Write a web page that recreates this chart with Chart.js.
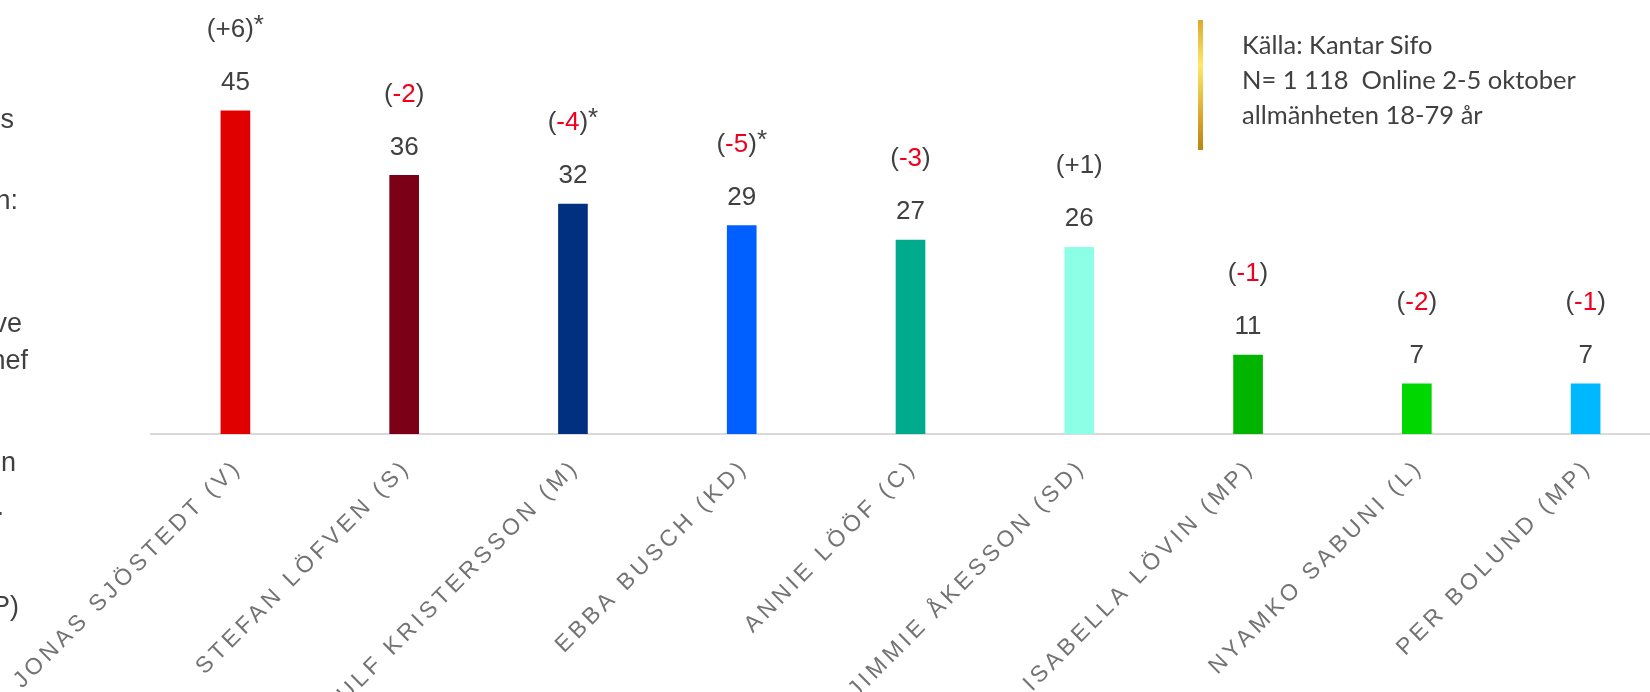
<!DOCTYPE html>
<html>
<head>
  <title>Partiledare förtroende</title>
  <script src="https://cdn.jsdelivr.net/npm/chart.js"></script>
  <style>
    body {
      margin: 0;
      background: #fff;
      font-family: "Liberation Sans", Arial, sans-serif;
    }
    #wrap {
      position: relative;
      width: 1650px;
      height: 692px;
      overflow: hidden;
    }
    canvas { position: absolute; left: 0; top: 0; }
    .frag {
      position: absolute;
      right: 0;
      color: #404040;
      font-size: 27px;
      line-height: 1;
      white-space: nowrap;
    }
    #source {
      position: absolute;
      left: 1198px;
      top: 20px;
      height: 130px;
      border-left: 5px solid transparent;
      border-image: linear-gradient(#d9a82c, #ffe868 35%, #d8a52a 75%, #b5850f) 1;
      padding-left: 39px;
      font-family: Lato, "Open Sans", sans-serif;
      font-size: 25.5px;
      color: #404040;
      line-height: 35px;
    }
    #source div { position: relative; top: 7px; }
  </style>
</head>
<body>
<div id="wrap">
  <canvas id="chart" width="1672" height="692"></canvas>

  <!-- text box on the left, cut off by the picture edge -->
  <div class="frag" style="right:1636px;top:106px;">s</div>
  <div class="frag" style="right:1632px;top:187px;">n:</div>
  <div class="frag" style="right:1628px;top:310px;">ve</div>
  <div class="frag" style="right:1622px;top:347px;">hef</div>
  <div class="frag" style="right:1634px;top:449px;">n</div>
  <div class="frag" style="right:1646px;top:493px;">.</div>
  <div class="frag" style="right:1631px;top:593px;">P)</div>

  <div id="source"><div>
    Källa: Kantar Sifo<br>
    N= 1 118 &nbsp;Online 2-5 oktober<br>
    allmänheten 18-79 år
  </div></div>
</div>

<script>
  const leaders = ["JONAS SJÖSTEDT (V)", "STEFAN LÖFVEN (S)", "ULF KRISTERSSON (M)", "EBBA BUSCH (KD)",
    "ANNIE LÖÖF (C)", "JIMMIE ÅKESSON (SD)", "ISABELLA LÖVIN (MP)", "NYAMKO SABUNI (L)", "PER BOLUND (MP)"];
  const trust = [45, 36, 32, 29, 27, 26, 11, 7, 7];
  const change = [6, -2, -4, -5, -3, 1, -1, -2, -1];
  const significant = [true, false, true, true, false, false, false, false, false];
  const partyColors = ["#e10000", "#7b0017", "#00307f", "#0060ff", "#00ab8d", "#8cffe6", "#00b400", "#00d600", "#00b8ff"];

  const textGray = "#404040";
  const changeRed = "#f0001c";

  const labelPlugin = {
    id: "barLabels",
    afterDatasetsDraw(chart) {
      const ctx = chart.ctx;
      const meta = chart.getDatasetMeta(0);
      ctx.save();
      ctx.font = "26px 'Liberation Sans', Arial, sans-serif";
      ctx.textBaseline = "middle";
      meta.data.forEach((bar, i) => {
        const valueY = bar.y - 28;
        ctx.fillStyle = textGray;
        ctx.textAlign = "center";
        ctx.fillText(String(trust[i]), bar.x, valueY);

        // change label: "(" + number + ")" + optional "*"
        const num = (change[i] > 0 ? "+" : "") + change[i];
        const parts = [
          ["(", textGray],
          [num, change[i] < 0 ? changeRed : textGray],
          [")", textGray]
        ];
        if (significant[i]) parts.push(["*", textGray]);
        const total = parts.reduce((s, p) => s + ctx.measureText(p[0]).width, 0);
        let x = bar.x - total / 2;
        ctx.textAlign = "left";
        const changeY = valueY - 53;
        parts.forEach(p => {
          ctx.fillStyle = p[1];
          ctx.fillText(p[0], x, p[0] === "*" ? changeY - 4 : changeY);
          x += ctx.measureText(p[0]).width;
        });
      });
      ctx.restore();

      // tick labels are drawn next (z: 1): spaced letters, nudged right
      ctx.save();
      ctx.translate(3, 0);
      ctx.letterSpacing = "4px";
    },
    afterDraw(chart) {
      chart.ctx.restore();
    }
  };

  new Chart(document.getElementById("chart"), {
    type: "bar",
    data: {
      labels: leaders,
      datasets: [{
        data: trust,
        backgroundColor: partyColors,
        barThickness: 29
      }]
    },
    options: {
      responsive: false,
      animation: false,
      layout: { padding: { left: 151, top: 3, right: 2 } },
      plugins: {
        legend: { display: false },
        tooltip: { enabled: false }
      },
      scales: {
        x: {
          grid: { display: false },
          border: { display: true, color: "#d9d9d9", width: 2 },
          ticks: {
            z: 1,
            color: "#737373",
            font: { family: "'Liberation Sans', Arial, sans-serif", size: 23 },
            minRotation: 45,
            maxRotation: 45,
            padding: 12,
            autoSkip: false
          },
          afterFit(scale) { scale.height = 692 - 434; }
        },
        y: {
          display: false,
          min: 0,
          max: 60
        }
      }
    },
    plugins: [labelPlugin]
  });
</script>
</body>
</html>
